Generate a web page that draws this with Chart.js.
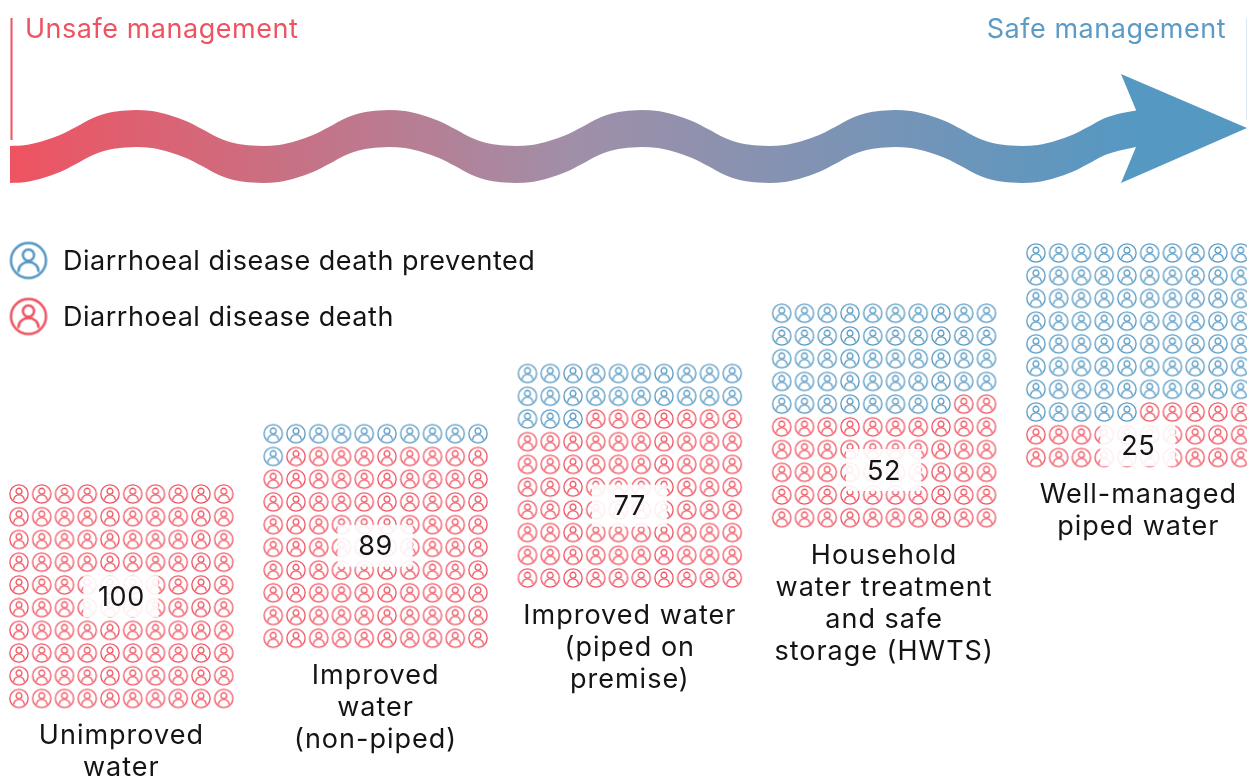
<!DOCTYPE html>
<html><head><meta charset="utf-8">
<style>html,body{margin:0;padding:0;background:#fff}canvas{display:block}</style>
<script src="https://cdn.jsdelivr.net/npm/chart.js@4"></script></head>
<body><canvas id="c" width="1247" height="777"></canvas>
<script>
const categories = [["Unimproved","water"],["Improved","water","(non-piped)"],["Improved water","(piped on","premise)"],["Household","water treatment","and safe","storage (HWTS)"],["Well-managed","piped water"]];
const deaths = [100,89,77,52,25];
const prevented = [0,11,23,48,75];
const badgeRows = [4.5,4.93,5.82,6.9,8.46];
const legendLabels = ["Diarrhoeal disease death prevented","Diarrhoeal disease death"];
const headerLeft = "Unsafe management";
const headerRight = "Safe management";
const waveX = [10,26,43,60,76,93,110,126,136,152,169,186,202,219,236,252,263,279,296,313,329,346,363,379,389,405,422,439,455,472,489,505,516,532,549,566,582,599,616,632,642,658,675,692,708,725,742,758,769,785,802,819,835,852,869,885,895,911,928,945,961,978,995,1011,1022,1038,1055,1072,1088,1105,1122,1136];
const waveTop = [146,145,141,135,127,118,112.5,110.5,110,111,115,121,129,138,143.5,145.5,146,145,141,135,127,118,112.5,110.5,110,111,115,121,129,138,143.5,145.5,146,145,141,135,127,118,112.5,110.5,110,111,115,121,129,138,143.5,145.5,146,145,141,135,127,118,112.5,110.5,110,111,115,121,129,138,143.5,145.5,146,145,141,135,127,118,113,110.5];
const waveBottom = [183,182,178,172,164,155,149.5,147.5,147,148,152,158,166,175,180.5,182.5,183,182,178,172,164,155,149.5,147.5,147,148,152,158,166,175,180.5,182.5,183,182,178,172,164,155,149.5,147.5,147,148,152,158,166,175,180.5,182.5,183,182,178,172,164,155,149.5,147.5,147,148,152,158,166,175,180.5,182.5,183,182,178,172,164,155,150,147];
const headX = [1136,1121,1247,1121,1136];
const headY = [110,74,128,183,147];

const RED='#EF5361', BLUE='#5598C2', INK='#141414';
const FONT='Inter, "Open Sans", sans-serif';
const canvas=document.getElementById('c'); const g=canvas.getContext('2d');

function icon(color,d,lw){
  const pad=1, s=Math.ceil(d)+pad*2, c=document.createElement('canvas'); c.width=c.height=s;
  const x=c.getContext('2d'), r=d/2-lw/2; x.translate(s/2,s/2); x.strokeStyle=color; x.lineWidth=lw;
  x.beginPath(); x.arc(0,0,r,0,Math.PI*2); x.stroke();
  x.beginPath(); x.arc(0,-0.31*r,0.32*r,0,Math.PI*2); x.stroke();
  x.lineCap='round';
  x.beginPath(); x.ellipse(0,0.60*r,0.57*r,0.51*r,0,Math.PI,2*Math.PI); x.stroke();
  return c;
}
const grad=g.createLinearGradient(10,0,1136,0);
grad.addColorStop(0,RED); grad.addColorStop(0.5,'#A08FA8'); grad.addColorStop(1,BLUE);

const PITCH_X=11.175, PITCH_Y=2.652;
function cells(pick){
  const out=[];
  deaths.forEach((dv,i)=>{ for(let k=0;k<dv+prevented[i];k++){
    const isPrev=k<prevented[i]; if(isPrev!==pick) continue;
    out.push({x:i*PITCH_X+k%10,y:Math.floor(k/10)-i*PITCH_Y});
  }});
  return out;
}
const pts=(xs,ys)=>xs.map((x,i)=>({x,y:ys[i]}));
const px={xAxisID:'px',yAxisID:'py'};
const datasets=[
 {label:'prevented',data:cells(true),pointStyle:icon(BLUE,19.6,1.3),showLine:false,order:1},
 {label:'death',data:cells(false),pointStyle:icon(RED,19.6,1.3),showLine:false,order:1},
 {label:'key',...px,data:pts([28.5],[260.5]),pointStyle:icon(BLUE,37.5,2.5),showLine:false,order:1},
 {label:'key2',...px,data:pts([28.5],[316.5]),pointStyle:icon(RED,37.5,2.5),showLine:false,order:1},
 {label:'waveTop',...px,data:pts(waveX,waveTop),showLine:true,borderWidth:0,pointRadius:0,cubicInterpolationMode:'monotone',fill:'+1',backgroundColor:grad,order:3},
 {label:'waveBottom',...px,data:pts(waveX,waveBottom),showLine:true,borderWidth:0,pointRadius:0,cubicInterpolationMode:'monotone',order:3},
 {label:'head',...px,data:pts(headX,headY),showLine:true,borderWidth:0,pointRadius:0,tension:0,fill:'shape',backgroundColor:BLUE,order:2},
 {label:'markL',...px,data:pts([11.5,11.5],[18,140]),showLine:true,borderColor:RED,borderWidth:2,pointRadius:0,order:2},
 {label:'markR',...px,data:pts([1246.5,1246.5],[18,120]),showLine:true,borderColor:'#DCE9F2',borderWidth:1,pointRadius:0,order:2}
];
const textPlugin={id:'texts',afterDatasetsDraw(ch){
  const c=ch.ctx, X=ch.scales.x, Y=ch.scales.y;
  const W='370 27px '+FONT;
  c.save(); c.textBaseline='alphabetic'; c.letterSpacing='0.6px';
  const cx=i=>X.getPixelForValue(i*PITCH_X+4.5);
  deaths.forEach((v,i)=>{
    const mx=cx(i), my=Y.getPixelForValue(badgeRows[i]-i*PITCH_Y);
    c.fillStyle='rgba(255,255,255,0.9)'; c.fillRect(mx-38,my-21,75,42);
    c.fillStyle=INK; c.font=W; c.textAlign='center'; c.fillText(String(v),mx,my+9.5);
  });
  c.letterSpacing='1px';
  categories.forEach((lines,i)=>{
    const bottom=Y.getPixelForValue(9-i*PITCH_Y);
    lines.forEach((t,j)=>{ c.fillStyle=INK; c.font=W; c.textAlign='center';
      c.fillText(t,cx(i),bottom+46+j*32); });
  });
  c.letterSpacing='0.52px';
  c.textAlign='left'; c.fillStyle=INK; c.font=W;
  c.fillText(legendLabels[0],63,269.5); c.fillText(legendLabels[1],63,325.5);
  c.fillStyle=RED; c.fillText(headerLeft,25,38);
  c.fillStyle='#5B9BC5'; c.textAlign='right'; c.fillText(headerRight,1226,38);
  c.restore();
}};
const off={display:false,type:'linear'};
const ux=22.75, uy=22.72;
new Chart(canvas,{type:'scatter',data:{datasets},plugins:[textPlugin],options:{
  responsive:false,animation:false,devicePixelRatio:1,layout:{padding:0,autoPadding:false},events:[],
  plugins:{legend:{display:false},tooltip:{enabled:false},title:{display:false}},
  scales:{
    x:{...off,min:-19/ux,max:(1247-19)/ux},
    y:{...off,reverse:true,min:-494/uy,max:(777-494)/uy},
    px:{...off,min:0,max:1247},
    py:{...off,reverse:true,min:0,max:777}
  }
}});
</script></body></html>
